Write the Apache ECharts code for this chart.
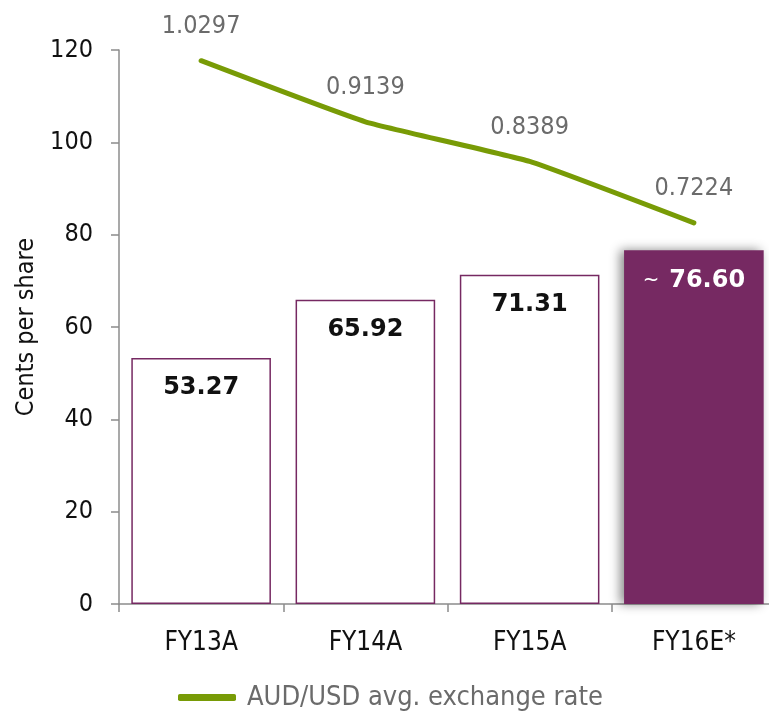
<!DOCTYPE html>
<html>
<head>
<meta charset="utf-8">
<style>
  html, body { margin: 0; padding: 0; background: #ffffff; }
  #chart { width: 769px; height: 711px; }
</style>
<script src="https://cdn.jsdelivr.net/npm/echarts@6/dist/echarts.min.js"></script>
</head>
<body>
<div id="chart"></div>
<script>
const categories = ['FY13A', 'FY14A', 'FY15A', 'FY16E*'];
const epsValues = [53.27, 65.92, 71.31, 76.60];
const fxRates = [1.0297, 0.9139, 0.8389, 0.7224];
const fxLabels = ['1.0297', '0.9139', '0.8389', '0.7224'];
const epsLabels = ['53.27', '65.92', '71.31', '76.60'];
const estimatedIndex = 3;

const FONT = '"DejaVu Sans Condensed", "DejaVu Sans", sans-serif';
const PURPLE = '#762962';
const GREEN = '#789b06';

const chart = echarts.init(document.getElementById('chart'), null, { renderer: 'canvas' });

const barData = epsValues.map((v, i) => {
  if (i === estimatedIndex) {
    return {
      value: v,
      itemStyle: {
        color: PURPLE,
        borderWidth: 0,
        shadowColor: 'rgba(0,0,0,0.45)',
        shadowBlur: 10,
        shadowOffsetX: -4,
        shadowOffsetY: 0
      },
      label: {
        formatter: '{t|~}{v|' + epsLabels[i] + '}',
        rich: {
          t: { fontSize: 22, color: '#ffffff', fontFamily: FONT, fontWeight: 'normal', padding: [0, 10, 0, 0] },
          v: { fontSize: 24, color: '#ffffff', fontFamily: '"DejaVu Sans", sans-serif', fontWeight: 'bold' }
        }
      }
    };
  }
  return {
    value: v,
    itemStyle: { color: '#ffffff', borderColor: PURPLE, borderWidth: 1.5 },
    label: { formatter: epsLabels[i] }
  };
});

const option = {
  backgroundColor: '#ffffff',
  animation: false,
  grid: { left: 119, top: 50, height: 554, width: 657, containLabel: false, outerBoundsMode: 'none' },
  legend: {
    data: [{ name: 'AUD/USD avg. exchange rate', icon: 'roundRect', itemStyle: { color: GREEN } }],
    left: 173,
    top: 679,
    itemWidth: 58,
    itemHeight: 7,
    textStyle: { fontFamily: FONT, fontSize: 27, color: '#6b6b6b', padding: [0, 0, 8, 6] }
  },
  xAxis: {
    type: 'category',
    data: categories,
    boundaryGap: true,
    axisLine: { show: true, lineStyle: { color: '#8c8c8c', width: 1.5 } },
    axisTick: { show: true, alignWithLabel: false, length: 8, lineStyle: { color: '#8c8c8c', width: 1.5 } },
    axisLabel: { fontFamily: FONT, fontSize: 26, color: '#111111', margin: 26 }
  },
  yAxis: [
    {
      type: 'value',
      min: 0,
      max: 120,
      interval: 20,
      name: 'Cents per share',
      nameLocation: 'middle',
      nameGap: 78,
      nameRotate: 90,
      nameTextStyle: { fontFamily: FONT, fontSize: 25, color: '#111111' },
      axisLine: { show: true, lineStyle: { color: '#8c8c8c', width: 1.5 } },
      axisTick: { show: true, length: 8, lineStyle: { color: '#8c8c8c', width: 1.5 } },
      axisLabel: { fontFamily: FONT, fontSize: 25, color: '#111111', margin: 26 },
      splitLine: { show: false }
    },
    {
      type: 'value',
      min: 0,
      max: 1.05,
      show: false,
      splitLine: { show: false }
    }
  ],
  series: [
    {
      name: 'Cents per share',
      type: 'bar',
      data: barData,
      barCategoryGap: '15%',
      yAxisIndex: 0,
      label: {
        show: true,
        position: 'insideTop',
        distance: 18,
        fontFamily: '"DejaVu Sans", sans-serif',
        fontSize: 24,
        fontWeight: 'bold',
        color: '#111111'
      },
      z: 2
    },
    {
      name: 'AUD/USD avg. exchange rate',
      type: 'line',
      data: fxRates,
      yAxisIndex: 1,
      smooth: 0.12,
      symbol: 'circle',
      symbolSize: 1,
      showSymbol: true,
      lineStyle: { color: GREEN, width: 5, cap: 'round', join: 'round' },
      itemStyle: { color: GREEN },
      label: {
        show: true,
        position: 'top',
        distance: 21,
        formatter: (p) => fxLabels[p.dataIndex],
        fontFamily: FONT,
        fontSize: 25,
        color: '#6b6b6b'
      },
      z: 3
    }
  ]
};

chart.setOption(option);
</script>
</body>
</html>
